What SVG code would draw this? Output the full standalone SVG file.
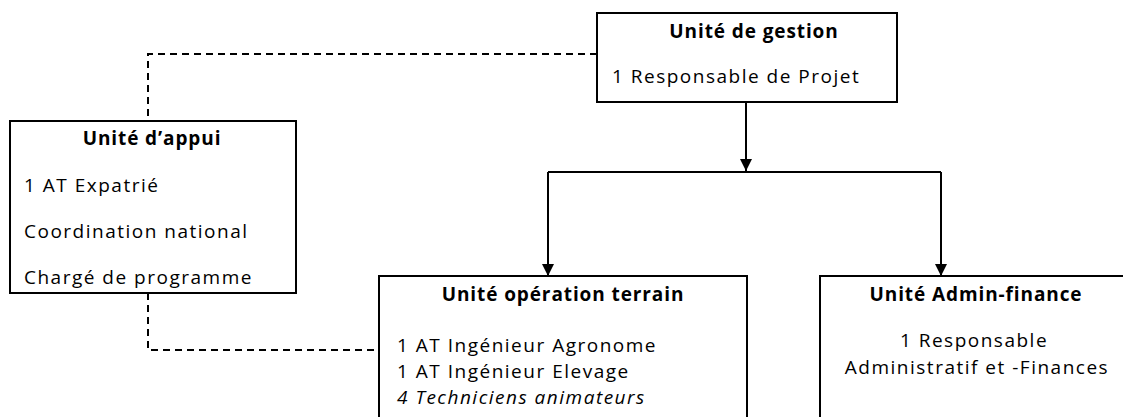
<svg xmlns="http://www.w3.org/2000/svg" width="1123" height="417" viewBox="0 0 1123 417">
<defs>
<style>
.box{fill:#fff;stroke:#000;stroke-width:2}
.t{font-family:"Open Sans","DejaVu Sans",sans-serif;font-size:19px;fill:#000;letter-spacing:1.5px}
.b{font-weight:bold;text-anchor:middle;letter-spacing:0.9px}
.c{text-anchor:middle}
.i{font-style:italic}
.solid{fill:none;stroke:#000;stroke-width:2}
.dash{fill:none;stroke:#000;stroke-width:2;stroke-dasharray:7,5}
</style>
<marker id="arr" viewBox="0 0 10 10" refX="10" refY="5" markerWidth="12" markerHeight="12" markerUnits="userSpaceOnUse" orient="auto">
<path d="M0,0 L10,5 L0,10 Z" fill="#000"/>
</marker>
</defs>
<rect width="1123" height="417" fill="#fff"/>
<g id="connectors">
<path class="dash" d="M597,54 H148 V121"/>
<path class="dash" d="M148,293 V350 H379"/>
<path class="solid" d="M746,102 V171" marker-end="url(#arr)"/>
<path class="solid" d="M548,172 H941"/>
<path class="solid" d="M548,172 V276" marker-end="url(#arr)"/>
<path class="solid" d="M941,172 V276" marker-end="url(#arr)"/>
</g>
<g id="gestion">
<rect class="box" x="597" y="13" width="300" height="89"/>
<text class="t b" x="754" y="38">Unité de gestion</text>
<text class="t" x="612" y="83">1 Responsable de Projet</text>
</g>
<g id="appui">
<rect class="box" x="10" y="121" width="286" height="172"/>
<text class="t b" x="152" y="145">Unité d’appui</text>
<text class="t" x="24" y="192">1 AT Expatrié</text>
<text class="t" x="24" y="238">Coordination national</text>
<text class="t" x="24" y="284">Chargé de programme</text>
</g>
<g id="operation">
<rect class="box" x="379" y="276" width="368" height="150"/>
<text class="t b" x="563" y="301">Unité opération terrain</text>
<text class="t" x="397" y="352">1 AT Ingénieur Agronome</text>
<text class="t" x="397" y="378">1 AT Ingénieur Elevage</text>
<text class="t i" x="397" y="404">4 Techniciens animateurs</text>
</g>
<g id="admin">
<rect class="box" x="820" y="276" width="320" height="150"/>
<text class="t b" x="976" y="301">Unité Admin-finance</text>
<text class="t c" x="974" y="347">1 Responsable</text>
<text class="t c" x="977" y="374">Administratif et -Finances</text>
</g>
</svg>
